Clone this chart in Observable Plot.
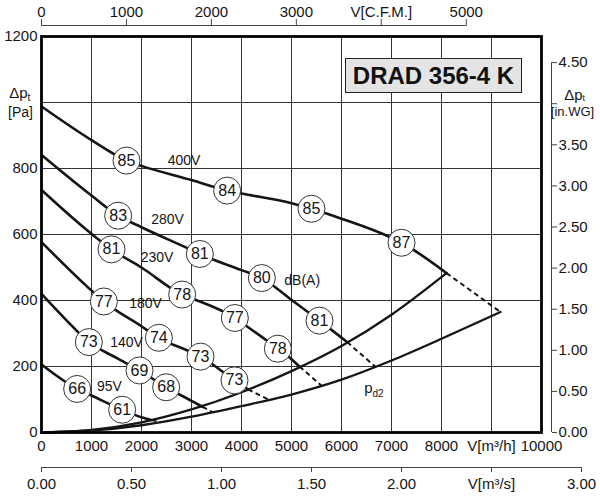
<!DOCTYPE html>
<html><head><meta charset="utf-8">
<script src="https://cdn.jsdelivr.net/npm/d3@7"></script>
<script src="https://cdn.jsdelivr.net/npm/@observablehq/plot@0.6"></script>
<style>
body{margin:0;background:#fff;}
#wrap{position:relative;width:600px;height:500px;}
#title{position:absolute;left:345px;top:58px;width:177px;height:35px;box-sizing:border-box;border:1.5px solid #222;background:#e4e4e4;font:bold 24px "Liberation Sans",Arial,sans-serif;display:flex;align-items:center;justify-content:center;color:#111;}
</style></head><body>
<div id="wrap"><div id="title">DRAD 356-4 K</div></div>
<script>
// ---- tick values ----
const qTicks = [0,1000,2000,3000,4000,5000,6000,7000,8000,9000,10000]; // m3/h
const pTicks = [0,200,400,600,800,1000,1200];                           // Pa
const cfmTicks = [0,1000,2000,3000,4000,5000];
const m3sTicks = [0,0.5,1,1.5,2,2.5,3];
const inwgTicks = [0,0.5,1,1.5,2,2.5,3,3.5,4,4.5];
const CFM = 1.699, M3S = 3600, INWG = 249.09; // unit conversions to m3/h and Pa

// ---- fan curves (solid parts) ----
const q400 = [0,1000,1700,2000,3000,3713,4000,5000,5400,6000,7000,7200,8100];
const p400 = [988,886,824,808,765,733,724,695,678,648,590,575,483];
const q280 = [0,1000,1533,2000,3000,3167,4000,4407,5000,5560,6113];
const p280 = [841,718,657,622,553,541,492,468,402,339,274];
const q230 = [0,1000,1400,2000,2813,3000,3867,4000,4727,5000,5160];
const p230 = [735,602,555,500,418,407,347,333,254,222,200];
const q180 = [0,1000,1247,2000,2347,3000,3180,3860,4130];
const p180 = [577,430,397,322,287,243,230,158,131];
const q140 = [0,500,947,1500,1960,2493,3000,3220];
const p140 = [420,340,274,226,188,137,96,78];
const q95 = [0,713,1000,1613,2000,2200];
const p95 = [206,132,112,69,46,38];

// ---- dashed continuations ----
const dashQ1 = [8100,6113,5160,4130,3220,2200];
const dashP1 = [483,274,200,131,78,38];
const dashQ2 = [9180,6680,5600,4547,3430,2390];
const dashP2 = [365,199,142,99,61,31];

// ---- system curves ----
const sysUpQ = [0,1000,2000,3000,4000,5000,6000,7000,8100];
const sysUpP = [0,8,31,70,122,186,262,357,483];
const sysLowQ = [0,1000,2000,3000,4000,5000,6000,7000,8000,9180];
const sysLowP = [0,6,22,48,80,115,160,218,284,365];

// ---- sound level circles ----
const circleQ = [1700,3713,5400,7200,1533,3167,4407,5560,1400,2813,3867,4727,1247,2347,3180,3860,947,1960,2493,713,1613];
const circleP = [824,733,678,575,657,541,468,339,555,418,347,254,397,287,230,158,274,188,137,132,69];
const circleDb = [85,84,85,87,83,81,80,81,81,78,77,78,77,74,73,73,73,69,68,66,61];

// ---- curve labels ----
const labelText = ["400V","280V","230V","180V","140V","95V","dB(A)"];
const labelQ = [2850,2520,2310,2080,1700,1360,5213];
const labelP = [823,645,531,392,274,139,461];
const pdQ = [6620], pdP = [133];

const FONT = '"Liberation Sans", Arial, Helvetica, sans-serif';
const INK = "#151515";
const pts = (q, p) => q.map((v, i) => ({q: v, p: p[i]}));
const fanCurves = [[q400,p400],[q280,p280],[q230,p230],[q180,p180],[q140,p140],[q95,p95]];
const dashes = dashQ1.map((v, i) => ({q1: v, p1: dashP1[i], q2: dashQ2[i], p2: dashP2[i]}));
const circles = circleQ.map((v, i) => ({q: v, p: circleP[i], db: circleDb[i]}));
const labels = labelText.map((t, i) => ({t, q: labelQ[i], p: labelP[i]}));
const fmt2 = v => v.toFixed(2);

const chart = Plot.plot({
  width: 600, height: 500,
  marginLeft: 41, marginRight: 59, marginTop: 36, marginBottom: 68,
  style: {fontFamily: FONT, fontSize: "15px", color: INK, background: "white"},
  x: {domain: [qTicks[0], qTicks[qTicks.length - 1]]},
  y: {domain: [pTicks[0], pTicks[pTicks.length - 1]]},
  marks: [
    Plot.gridX(qTicks.slice(1, -1), {stroke: "#333", strokeOpacity: 1, strokeWidth: 1}),
    Plot.gridY(pTicks.slice(1, -1), {stroke: "#333", strokeOpacity: 1, strokeWidth: 1}),
    Plot.line(pts(sysUpQ, sysUpP), {x: "q", y: "p", stroke: INK, strokeWidth: 2.3, curve: "monotone-x"}),
    Plot.line(pts(sysLowQ, sysLowP), {x: "q", y: "p", stroke: INK, strokeWidth: 2.3, curve: "monotone-x"}),
    ...fanCurves.map(([q, p]) => Plot.line(pts(q, p), {x: "q", y: "p", stroke: INK, strokeWidth: 2.6, curve: "monotone-x"})),
    Plot.link(dashes, {x1: "q1", y1: "p1", x2: "q2", y2: "p2", stroke: INK, strokeWidth: 2, strokeDasharray: "5,3.5"}),
    Plot.dot(circles, {x: "q", y: "p", r: 13.5, fill: "white", stroke: "#333", strokeWidth: 1}),
    Plot.text(circles, {x: "q", y: "p", text: "db", fontSize: 16, fill: INK}),
    Plot.text(labels, {x: "q", y: "p", text: "t", fontSize: 14, fill: INK}),
    Plot.text(pdQ, {x: d => d, y: (d, i) => pdP[i], text: () => "p", textAnchor: "end", fontSize: 15, fill: INK}),
    Plot.text(pdQ, {x: d => d, y: (d, i) => pdP[i], text: () => "d2", textAnchor: "start", dy: 5, fontSize: 10, fill: INK}),
    Plot.frame({stroke: "#000", strokeWidth: 2.8}),
    // left axis (Pa)
    Plot.axisY(pTicks, {anchor: "left", tickSize: 0, tickPadding: 4, fontSize: 15, label: null,
      tickFormat: d => d === 1000 ? "" : String(d)}),
    Plot.text([1000], {y: d => d, frameAnchor: "left", dx: -14, dy: -9, text: () => "Δp", textAnchor: "end", fontSize: 15, fill: INK}),
    Plot.text([1000], {y: d => d, frameAnchor: "left", dx: -14, dy: -5, text: () => "t", textAnchor: "start", fontSize: 10, fill: INK}),
    Plot.text([1000], {y: d => d, frameAnchor: "left", dx: -21, dy: 10, text: () => "[Pa]", textAnchor: "middle", fontSize: 14, fill: INK}),
    // bottom axis (m3/h)
    Plot.axisX(qTicks, {anchor: "bottom", tickSize: 0, tickPadding: 8, fontSize: 15, label: null,
      tickFormat: d => d === 9000 ? "V[m³/h]" : String(d)}),
    // top axis (CFM)
    Plot.ruleY([pTicks[pTicks.length - 1]], {x1: cfmTicks[0] * CFM, x2: cfmTicks[cfmTicks.length - 1] * CFM, dy: -11, stroke: "#444", strokeWidth: 1}),
    Plot.axisX(cfmTicks.map(v => v * CFM), {anchor: "top", tickSize: 7, tickPadding: 2, dy: -11, fontSize: 15, label: null, stroke: "#444",
      tickFormat: d => { const v = Math.round(d / CFM); return v === 4000 ? "V[C.F.M.]" : String(v); }}),
    // second bottom axis (m3/s)
    Plot.ruleY([pTicks[0]], {x1: m3sTicks[0] * M3S, x2: m3sTicks[m3sTicks.length - 1] * M3S, dy: 35, stroke: "#444", strokeWidth: 1}),
    Plot.axisX(m3sTicks.map(v => v * M3S), {anchor: "bottom", tickSize: 5, tickPadding: 6, dy: 35, fontSize: 15, label: null, stroke: "#444",
      tickFormat: d => { const v = d / M3S; return Math.abs(v - 2.5) < 1e-6 ? "V[m³/s]" : fmt2(v); }}),
    // right axis (in.WG)
    Plot.ruleX([qTicks[qTicks.length - 1]], {y1: inwgTicks[0] * INWG, y2: inwgTicks[inwgTicks.length - 1] * INWG, dx: 10, stroke: "#444", strokeWidth: 1}),
    Plot.axisY(inwgTicks.map(v => v * INWG), {anchor: "right", tickSize: 5, tickPadding: 2, dx: 10, fontSize: 15, label: null, stroke: "#444",
      tickFormat: d => { const v = Math.round(d / INWG * 100) / 100; return v === 4 ? "" : fmt2(v); }}),
    Plot.text([4 * INWG], {y: d => d, frameAnchor: "right", dx: 41, dy: -9, text: () => "Δp", textAnchor: "end", fontSize: 15, fill: INK}),
    Plot.text([4 * INWG], {y: d => d, frameAnchor: "right", dx: 41, dy: -6, text: () => "t", textAnchor: "start", fontSize: 9, fill: INK}),
    Plot.text([4 * INWG], {y: d => d, frameAnchor: "right", dx: 31, dy: 8, text: () => "[in.WG]", textAnchor: "middle", fontSize: 13, fill: INK})
  ]
});
const wrap = document.getElementById("wrap");
wrap.insertBefore(chart, document.getElementById("title"));
</script>
</body></html>
